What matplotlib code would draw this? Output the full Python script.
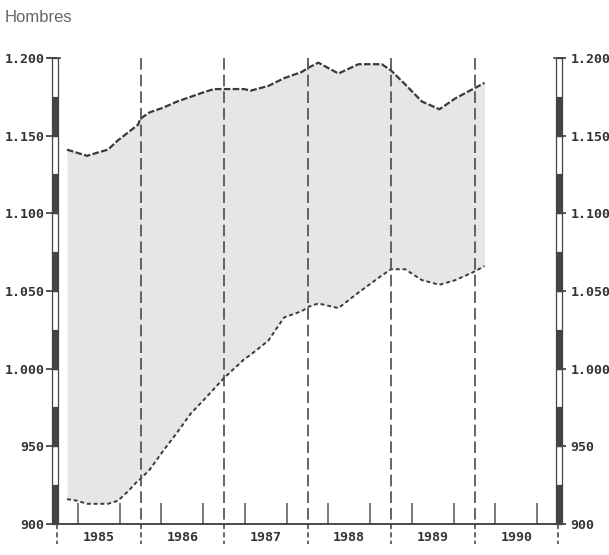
import numpy as np
import matplotlib
matplotlib.use("Agg")
import matplotlib.pyplot as plt
from matplotlib.patches import Rectangle

# lecture du graphique : temps en années décimales, effectifs en milliers
annee = [1985.12, 1985.24, 1985.36, 1985.48, 1985.61, 1985.73, 1985.85, 1985.97,
         1986.00, 1986.11, 1986.27, 1986.44, 1986.60, 1986.76, 1986.88, 1987.00,
         1987.24, 1987.32, 1987.53, 1987.72, 1987.93, 1988.02, 1988.13, 1988.37,
         1988.61, 1988.89, 1989.00, 1989.17, 1989.37, 1989.58, 1989.77, 1989.98,
         1990.12]
maxi = [1141, 1139, 1137, 1139, 1141, 1147, 1152, 1157,
        1161, 1165, 1168, 1172, 1175, 1178, 1180, 1180,
        1180, 1179, 1182, 1187, 1191, 1194, 1197, 1190,
        1196, 1196, 1192, 1183, 1172, 1167, 1174, 1180,
        1184]
mini = [916, 915, 913, 913, 913, 915, 921, 928,
        929, 935, 947, 959, 971, 980, 987, 994,
        1006, 1009, 1018, 1033, 1037, 1040, 1042, 1039,
        1049, 1060, 1064, 1064, 1057, 1054, 1057, 1062,
        1066]

annees = [1985, 1986, 1987, 1988, 1989, 1990]
yticks = [900, 950, 1000, 1050, 1100, 1150, 1200]
ylabels = ['900', '950', '1.000', '1.050', '1.100', '1.150', '1.200']

W, H = 609, 555
fig = plt.figure(figsize=(W / 100, H / 100), dpi=100)
ax = fig.add_axes([57 / W, 1 - 524 / H, (558 - 57) / W, (524 - 58) / H])

gris = '#3a3a3a'
police = 'DejaVu Sans Mono'
taille = 9.5

ax.fill_between(annee, mini, maxi, color='#e6e6e6', lw=0)
ax.plot(annee, maxi, color=gris, lw=1.6, ls=(0, (3, 1)))
ax.plot(annee, mini, color=gris, lw=1.4, ls=(0, (2, 1.5)))

ax.set_xlim(1985, 1991)
ax.set_ylim(900, 1200)

# lignes de séparation des années
for a in annees[1:]:
    ax.plot([a, a], [1200, 900], color='#4a4a4a', lw=1.2, ls=(0, (7, 3)))
for a in annees + [1991]:
    ax.plot([a, a], [900, 887], color='#4a4a4a', lw=1.2, ls=(0, (3, 2)), clip_on=False)

# barres verticales des axes (segments alternés)
dx = 6 / 83.5
for x0 in [1985 - dx * 0.8, 1991 - dx * 0.4]:
    for i, y0 in enumerate(range(900, 1200, 25)):
        plein = (i % 2 == 0)
        ax.add_patch(Rectangle((x0, y0), dx, 25, facecolor='#444444' if plein else 'white',
                               edgecolor='#444444', lw=0.9, clip_on=False, zorder=5))
    ax.plot([x0 - dx * 0.3, x0 + dx * 1.3], [1200, 1200], color='#444444', lw=1.2,
            clip_on=False, zorder=5)

for s in ['top', 'left', 'right']:
    ax.spines[s].set_visible(False)
ax.spines['bottom'].set_color(gris)
ax.spines['bottom'].set_linewidth(1.3)

ax.set_yticks(yticks)
ax.set_yticklabels(ylabels)
ax.tick_params(axis='y', left=True, right=True, labelleft=True, labelright=True,
               length=8, width=1.2, color=gris, pad=1, labelsize=taille, labelcolor='#333333')

centres = [a + 0.5 for a in annees]
ax.set_xticks(centres)
ax.set_xticklabels([str(a) for a in annees])
quarts = [a + q for a in annees for q in (0.25, 0.5, 0.75)]
ax.set_xticks(quarts, minor=True)
ax.tick_params(axis='x', which='major', length=0, pad=5, labelsize=taille, labelcolor='#333333')
ax.tick_params(axis='x', which='minor', direction='in', length=15, width=1.1, color='#555555')

for t in ax.yaxis.get_major_ticks() + ax.xaxis.get_major_ticks():
    for lab in (t.label1, t.label2):
        lab.set_family(police)
        lab.set_fontweight('bold')
for t in ax.yaxis.get_major_ticks():
    t.tick2line.set_markersize(6)

fig.text(5 / W, 1 - 18 / H, 'Hombres', fontsize=12, color='#666666',
         family=['Liberation Sans', 'DejaVu Sans'], va='center')

fig.savefig('out.png', dpi=100, facecolor='white')
